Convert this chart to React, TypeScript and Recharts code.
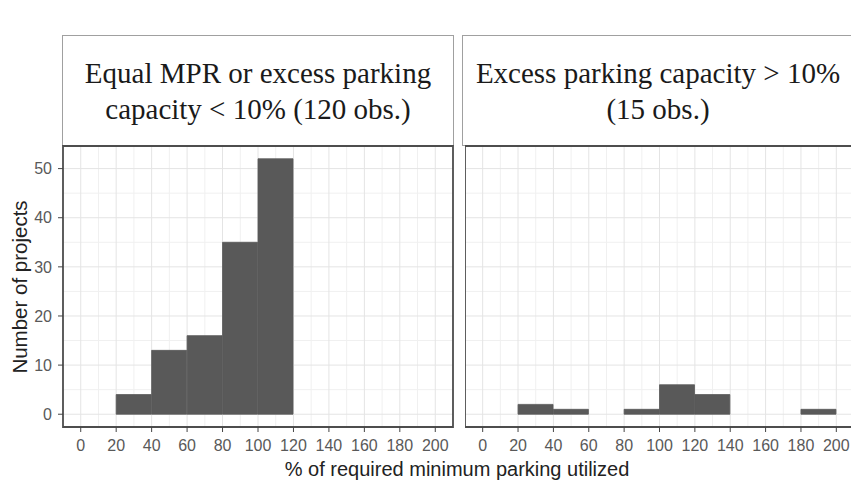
import React from "react";
import { BarChart, Bar, XAxis, YAxis, CartesianGrid, ReferenceArea } from "recharts";

// histogram bins are 20 wide, bars are placed at the bin middles
const leftBinMid = [30, 50, 70, 90, 110];
const leftCounts = [4, 13, 16, 35, 52];
const rightBinMid = [30, 50, 90, 110, 130, 190];
const rightCounts = [2, 1, 1, 6, 4, 1];

const xTicks = [0, 20, 40, 60, 80, 100, 120, 140, 160, 180, 200];
const xMinor = [-10, 10, 30, 50, 70, 90, 110, 130, 150, 170, 190, 210];
const yTicks = [0, 10, 20, 30, 40, 50];
const yMinor = [5, 15, 25, 35, 45];

const leftTitle = ["Equal MPR or excess parking", "capacity < 10% (120 obs.)"];
const rightTitle = ["Excess parking capacity > 10%", "(15 obs.)"];

const xDomain: [number, number] = [-10, 210];
const yDomain: [number, number] = [-2.6, 54.6];

const tickStyle = { fill: "#595959", fontSize: 16, fontFamily: "'Liberation Sans', Arial, sans-serif" };

function Strip({ lines, left }: { lines: string[]; left: number }) {
    return (
        <div
            style={{
                position: "absolute",
                left,
                top: 35,
                width: 392,
                height: 111,
                boxSizing: "border-box",
                border: "1.5px solid #a0a0a0",
                display: "flex",
                flexDirection: "column",
                alignItems: "center",
                justifyContent: "center",
                fontFamily: "'Liberation Serif', 'Times New Roman', serif",
                fontSize: 29,
                lineHeight: "36px",
                color: "#1a1a1a",
                background: "#fff",
            }}
        >
            {lines.map((l) => (
                <div key={l}>{l}</div>
            ))}
        </div>
    );
}

function Panel({ mids, counts, showY }: { mids: number[]; counts: number[]; showY: boolean }) {
    const data = mids.map((m, i) => ({ mid: m, count: counts[i] }));
    return (
        <BarChart
            width={showY ? 456 : 389}
            height={320}
            data={data}
            margin={{ top: 6, right: showY ? 3 : 0, left: 0, bottom: 3 }}
            barCategoryGap={0}
            barGap={0}
        >
            <CartesianGrid verticalValues={xMinor} horizontalValues={yMinor} stroke="#f0f0f0" strokeWidth={1} />
            <CartesianGrid verticalValues={xTicks} horizontalValues={yTicks} stroke="#e4e4e4" strokeWidth={1} />
            <XAxis
                dataKey="mid"
                type="number"
                domain={xDomain}
                ticks={xTicks}
                allowDataOverflow
                axisLine={false}
                tickLine={{ stroke: "#444" }}
                tickSize={5}
                tickMargin={8}
                height={30}
                tick={tickStyle}
                interval={0}
            />
            <YAxis
                type="number"
                domain={yDomain}
                ticks={yTicks}
                allowDataOverflow
                hide={!showY}
                width={63}
                axisLine={false}
                tickLine={{ stroke: "#444" }}
                tickSize={5}
                tickMargin={6}
                tick={tickStyle}
                interval={0}
            />
            <Bar dataKey="count" fill="#595959" stroke="#595959" strokeWidth={0.8} isAnimationActive={false} />
            <ReferenceArea
                x1={xDomain[0]}
                x2={xDomain[1]}
                y1={yDomain[0]}
                y2={yDomain[1]}
                fill="none"
                fillOpacity={0}
                stroke="#4d4d4d"
                strokeWidth={1.8}
                ifOverflow="visible"
            />
        </BarChart>
    );
}

export default function App() {
    return (
        <div
            style={{
                position: "absolute",
                left: 0,
                top: 0,
                width: 851,
                height: 485,
                overflow: "hidden",
                background: "#fff",
                fontFamily: "'Liberation Sans', Arial, sans-serif",
            }}
        >
            <Strip lines={leftTitle} left={62} />
            <Strip lines={rightTitle} left={462} />
            <div style={{ position: "absolute", left: 0, top: 140 }}>
                <Panel mids={leftBinMid} counts={leftCounts} showY />
            </div>
            <div style={{ position: "absolute", left: 465, top: 140 }}>
                <Panel mids={rightBinMid} counts={rightCounts} showY={false} />
            </div>
            <div
                style={{
                    position: "absolute",
                    left: 20,
                    top: 287,
                    transform: "translate(-50%, -50%) rotate(-90deg)",
                    whiteSpace: "nowrap",
                    fontSize: 20.5,
                    color: "#222",
                }}
            >
                Number of projects
            </div>
            <div
                style={{
                    position: "absolute",
                    left: 457,
                    top: 469,
                    transform: "translate(-50%, -50%)",
                    whiteSpace: "nowrap",
                    fontSize: 20,
                    color: "#222",
                }}
            >
                % of required minimum parking utilized
            </div>
        </div>
    );
}
